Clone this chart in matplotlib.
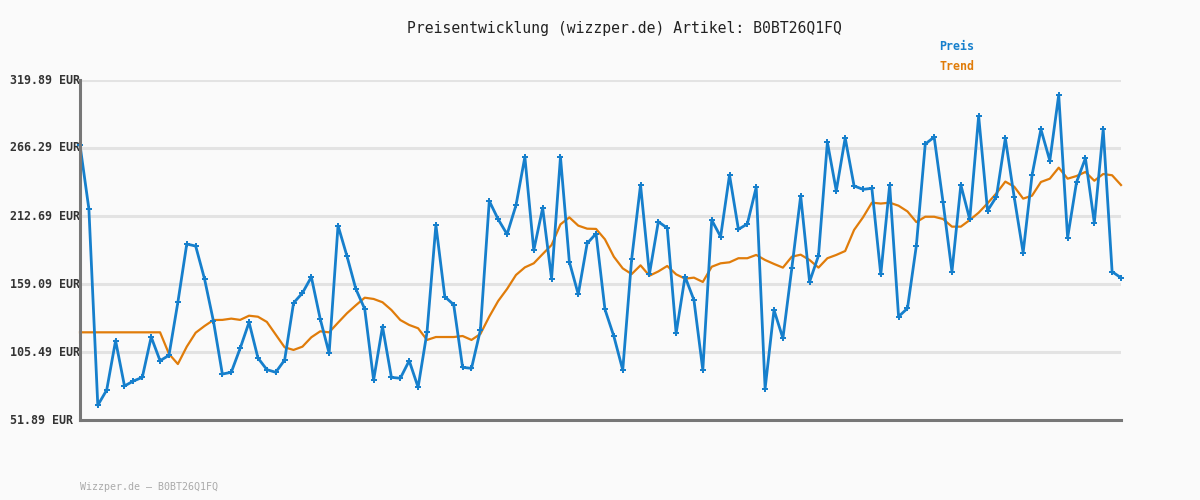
import matplotlib
matplotlib.use("Agg")
import matplotlib.pyplot as plt
import matplotlib.transforms as mtransforms
import numpy as np

title = "Preisentwicklung (wizzper.de) Artikel: B0BT26Q1FQ"
footer = "Wizzper.de – B0BT26Q1FQ"
y_ticks = [51.89, 105.49, 159.09, 212.69, 266.29, 319.89]
y_tick_labels = ["51.89 EUR", "105.49 EUR", "159.09 EUR", "212.69 EUR", "266.29 EUR", "319.89 EUR"]

preis = [
    268.6, 218.2, 63.5, 75.5, 114.4, 78.7, 82.6, 85.5, 117.3, 98.6,
    102.9, 144.7, 190.6, 189.0, 163.0, 129.7, 88.1, 89.5, 108.4, 128.9,
    100.8, 91.6, 89.5, 99.2, 144.1, 152.0, 164.6, 131.5, 104.5, 205.1,
    181.2, 155.2, 139.4, 83.4, 125.5, 85.5, 84.8, 98.6, 77.7, 121.0,
    205.6, 149.1, 142.8, 93.4, 92.6, 122.8, 224.5, 210.1, 198.3, 221.1,
    259.2, 185.7, 219.0, 163.3, 259.2, 176.5, 151.0, 191.1, 198.8, 139.1,
    117.9, 91.3, 178.6, 237.1, 166.9, 208.2, 203.2, 120.2, 164.9, 146.5,
    91.3, 209.5, 196.4, 245.0, 202.2, 206.4, 235.3, 76.6, 138.6, 116.3,
    171.4, 228.5, 160.9, 181.4, 270.8, 232.6, 274.2, 236.4, 233.7, 234.5,
    166.6, 237.1, 133.4, 139.9, 189.4, 269.4, 274.9, 223.5, 168.8, 237.1,
    210.1, 291.5, 216.9, 227.9, 273.9, 227.4, 183.8, 244.8, 281.0, 256.3,
    308.1, 195.6, 239.3, 258.2, 207.4, 281.0, 168.8, 164.0,
]

trend = [
    121.0, 121.0, 121.0, 121.0, 121.0, 121.0, 121.0, 121.0, 121.0, 121.0,
    104.0, 96.0, 109.7, 120.7, 126.0, 130.7, 130.8, 131.8, 130.8, 134.1,
    133.3, 129.2, 119.2, 109.2, 107.1, 109.7, 117.1, 121.8, 121.0, 128.6,
    136.0, 142.3, 148.3, 147.3, 144.7, 138.6, 130.7, 126.8, 124.2, 115.0,
    117.3, 117.3, 117.3, 118.1, 115.0, 119.7, 133.4, 145.7, 155.2, 166.2,
    172.2, 175.4, 182.7, 189.8, 206.1, 211.6, 205.1, 202.7, 202.5, 194.3,
    180.6, 171.4, 166.9, 173.8, 165.6, 169.0, 173.3, 166.7, 163.3, 164.1,
    160.7, 172.7, 175.4, 176.2, 179.4, 179.4, 182.0, 178.0, 174.9, 172.0,
    180.6, 182.2, 178.0, 172.0, 179.4, 182.0, 185.1, 201.7, 211.6, 223.2,
    222.5, 223.2, 220.8, 216.3, 207.9, 212.1, 212.1, 210.3, 204.3, 204.3,
    209.5, 215.3, 222.7, 230.6, 239.8, 235.8, 226.4, 228.7, 239.5, 242.1,
    250.8, 242.1, 244.2, 247.4, 240.5, 245.8, 244.8, 237.1,
]

BLUE = "#167fcc"
ORANGE = "#e07c0a"
BG = "#fafafa"

fig = plt.figure(figsize=(12, 5), dpi=100, facecolor=BG)
ax = fig.add_axes([80 / 1200, 80 / 500, (1121 - 80) / 1200, (420 - 80) / 500])
ax.set_facecolor(BG)

x = np.arange(len(preis))
ax.set_xlim(0, len(preis) - 1)
ax.set_ylim(y_ticks[0], y_ticks[-1])

for v in y_ticks[1:]:
    ax.axhline(v, color="#e3e3e3", lw=2.2, zorder=1)

ax.plot(x, trend, color=ORANGE, lw=1.6, zorder=3, clip_on=False)
ax.plot(x, preis, color=BLUE, lw=2.0, zorder=4, marker="P", markersize=3.8,
        markeredgewidth=0, clip_on=False)

for s in ["top", "right"]:
    ax.spines[s].set_visible(False)
for s in ["left", "bottom"]:
    ax.spines[s].set_color("#777777")
    ax.spines[s].set_linewidth(2.2)
    ax.spines[s].set_zorder(5)

ax.set_xticks([])
ax.set_yticks([])

trans = mtransforms.blended_transform_factory(fig.transFigure, ax.transData)
for v, lab in zip(y_ticks, y_tick_labels):
    ax.text(10 / 1200, v, lab, transform=trans, ha="left", va="center",
            fontsize=8.4, fontweight="bold", family="DejaVu Sans Mono",
            color="#333333", clip_on=False)

fig.text(624 / 1200, 1 - 28 / 500, title, ha="center", va="center",
         fontsize=10.6, family="DejaVu Sans Mono", color="#222222")
fig.text(939 / 1200, 1 - 47 / 500, "Preis", ha="left", va="center",
         fontsize=8.4, fontweight="bold", family="DejaVu Sans Mono", color=BLUE)
fig.text(939 / 1200, 1 - 67 / 500, "Trend", ha="left", va="center",
         fontsize=8.4, fontweight="bold", family="DejaVu Sans Mono", color=ORANGE)
fig.text(80 / 1200, 1 - 487 / 500, footer, ha="left", va="center",
         fontsize=7.2, family="DejaVu Sans Mono", color="#aaaaaa")

fig.savefig("out.png", dpi=100, facecolor=BG)
